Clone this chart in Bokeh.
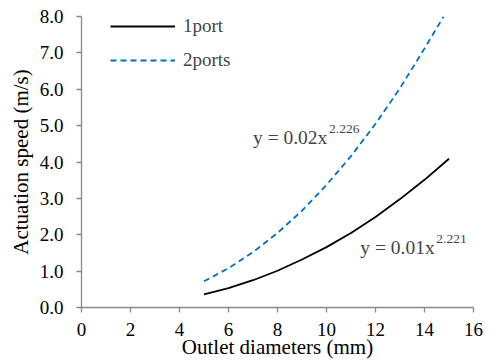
from bokeh.plotting import figure
from bokeh.models import Legend, LegendItem, Label, FixedTicker, Range1d, CustomJSTickFormatter
from bokeh.embed import file_html
from bokeh.resources import INLINE

# Data
x_1port = [5, 6, 7, 8, 9, 10, 11, 12, 13, 14, 15]
y_1port = [0.36, 0.53, 0.75, 1.01, 1.32, 1.66, 2.05, 2.49, 2.98, 3.51, 4.09]
x_2ports = [5, 6, 7, 8, 9, 10, 11, 12, 13, 14, 14.78]
y_2ports = [0.72, 1.08, 1.52, 2.05, 2.66, 3.37, 4.16, 5.05, 6.03, 7.12, 8.0]
x_ticks = [0, 2, 4, 6, 8, 10, 12, 14, 16]
y_ticks = [0, 1, 2, 3, 4, 5, 6, 7, 8]
x_title = "Outlet diameters (mm)"
y_title = "Actuation speed (m/s)"

FONT = "Liberation Serif"
FS = "19px"
AXIS_COLOR = "#898989"

p = figure(width=490, height=363, output_backend="svg", toolbar_location=None,
           x_range=Range1d(0, 16), y_range=Range1d(0, 8),
           min_border_left=81, min_border_right=17, min_border_top=16, min_border_bottom=56)
p.outline_line_color = None
p.xgrid.grid_line_color = None
p.ygrid.grid_line_color = None

r1 = p.line(x_1port, y_1port, line_color="black", line_width=1.8)
r2 = p.line(x_2ports, y_2ports, line_color="#0070C0", line_width=1.8, line_dash="6 4")

for ax in (p.xaxis[0], p.yaxis[0]):
    ax.axis_line_color = AXIS_COLOR
    ax.axis_line_width = 1.3
    ax.major_tick_line_color = AXIS_COLOR
    ax.major_tick_line_width = 1.3
    ax.major_tick_out = 5
    ax.major_tick_in = 0
    ax.minor_tick_line_color = None
    ax.major_label_text_font = FONT
    ax.major_label_text_font_size = FS
    ax.major_label_text_color = "black"
    ax.axis_label_text_font = FONT
    ax.axis_label_text_font_size = "21px"
    ax.axis_label_text_font_style = "normal"
    ax.axis_label_text_color = "black"

p.xaxis.ticker = FixedTicker(ticks=x_ticks)
p.yaxis.ticker = FixedTicker(ticks=y_ticks)
p.yaxis.formatter = CustomJSTickFormatter(code="return tick.toFixed(1);")
p.xaxis.axis_label = x_title
p.yaxis.axis_label = y_title
p.xaxis.major_label_standoff = 10
p.xaxis.axis_label_standoff = -4
p.yaxis.major_label_standoff = 13
p.yaxis.axis_label_standoff = 4

legend = Legend(items=[LegendItem(label="1port", renderers=[r1]),
                       LegendItem(label="2ports", renderers=[r2])],
                location=(29, 236), orientation="vertical",
                glyph_width=65, glyph_height=20, label_height=20, spacing=12,
                padding=0, margin=0,
                label_standoff=8, label_text_font=FONT, label_text_font_size=FS,
                border_line_alpha=0, background_fill_alpha=0)
p.add_layout(legend, "center")

def eq(x, y, base, exp, w):
    p.add_layout(Label(x=x, y=y, text=base, text_font=FONT, text_font_size="19.5px",
                       text_baseline="alphabetic", text_align="left"))
    p.add_layout(Label(x=x, y=y, x_offset=w, y_offset=8, text=exp, text_font=FONT,
                       text_font_size="13.5px", text_baseline="alphabetic", text_align="left"))

eq(7.0, 4.68, "y = 0.02x", "2.226", 76)
eq(11.38, 1.66, "y = 0.01x", "2.221", 76)

open("out.html", "w").write(file_html(p, INLINE))
